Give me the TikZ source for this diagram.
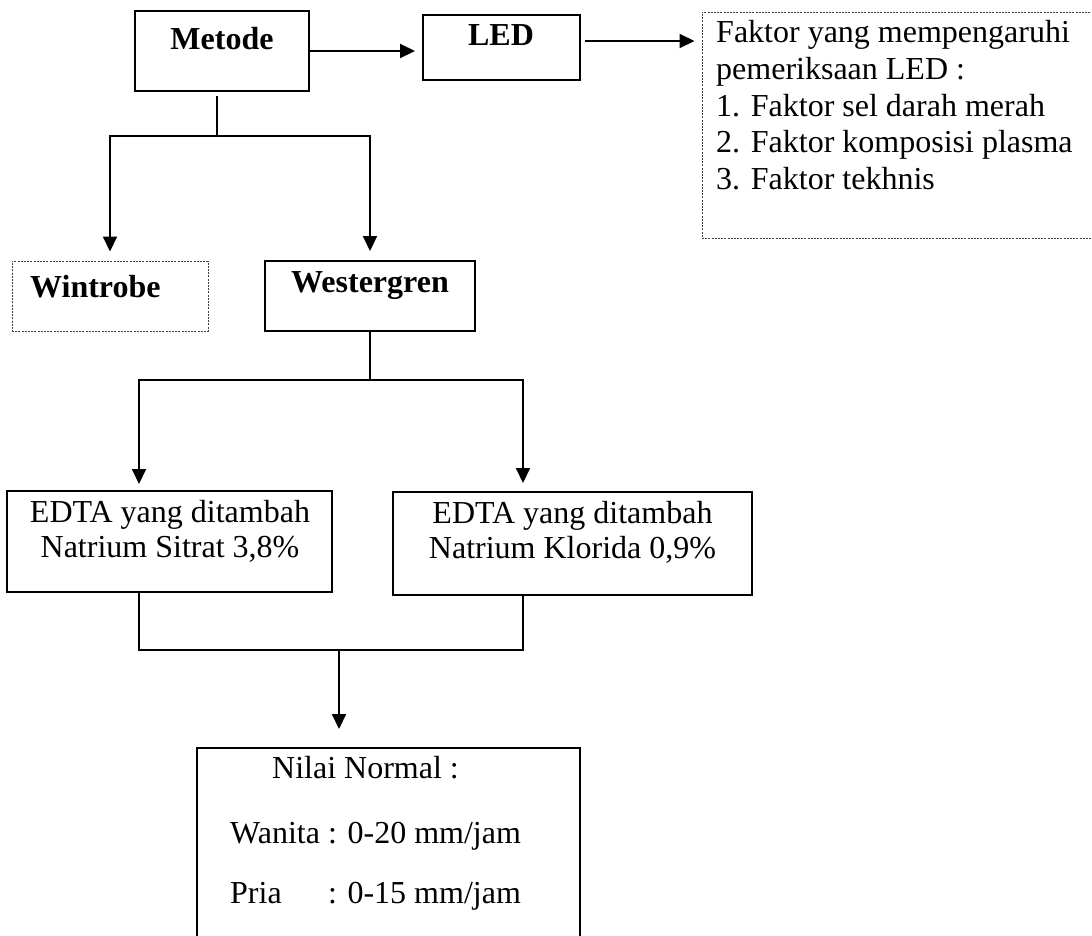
\documentclass[tikz,border=0pt]{standalone}
\usepackage{fontspec}
\setmainfont{Liberation Serif}
\usetikzlibrary{arrows.meta}
\begin{document}
\begin{tikzpicture}[x=1pt,y=-1pt]
\tikzset{
  solidbox/.style={draw=black, line width=2pt, inner sep=0pt},
  dotbox/.style={draw=black!75, line width=1pt, dash pattern=on 2pt off 1.2pt, inner sep=0pt},
  lbl/.style={inner sep=0pt, font=\fontsize{32}{37}\selectfont},
  blbl/.style={inner sep=0pt, font=\fontsize{32}{37}\selectfont\bfseries},
  arr/.style={line width=2pt, -{Triangle[length=15pt,width=14pt]}},
  conn/.style={line width=1.4pt},
  topconn/.style={line width=1.8pt},
}
\fill[white] (0,0) rectangle (1092,935);
\useasboundingbox (0,0) rectangle (1092,935);

% boxes
\node[solidbox, minimum width=174pt, minimum height=80pt] (metode) at (222,51) {};
\node[solidbox, minimum width=157pt, minimum height=65pt] (led) at (501.5,47.5) {};
\node[dotbox, minimum width=398pt, minimum height=226pt] (faktor) at (901,125) {};
\node[dotbox, minimum width=196pt, minimum height=70pt] (wintrobe) at (110,296) {};
\node[solidbox, minimum width=210pt, minimum height=70pt] (westergren) at (370,296) {};
\node[solidbox, minimum width=325pt, minimum height=101pt] (edta1) at (169.5,541.5) {};
\node[solidbox, minimum width=359pt, minimum height=103pt] (edta2) at (572.5,543.5) {};
\node[solidbox, minimum width=383pt, minimum height=197pt] (nilai) at (388.5,846.5) {};

% texts
\node[blbl, anchor=base] (tmetode) at (222,49) {Metode};
\node[blbl, anchor=base] (tled) at (501,45) {LED};
\node[blbl, anchor=base west] (twin) at (30,297) {Wintrobe};
\node[blbl, anchor=base] (twest) at (370,292) {Westergren};
\node[lbl, anchor=base west] (f1) at (716,42) {Faktor yang mempengaruhi};
\node[lbl, anchor=base west] (f2) at (716,79) {pemeriksaan LED :};
\node[lbl, anchor=base west] (f3) at (716,116) {1. Faktor sel darah merah};
\node[lbl, anchor=base west] (f4) at (716,152) {2. Faktor komposisi plasma};
\node[lbl, anchor=base west] (f5) at (716,189) {3. Faktor tekhnis};
\node[lbl, anchor=base] (e1a) at (170,522) {EDTA yang ditambah};
\node[lbl, anchor=base] (e1b) at (170,557) {Natrium Sitrat 3,8\%};
\node[lbl, anchor=base] (e2a) at (572.5,523) {EDTA yang ditambah};
\node[lbl, anchor=base] (e2b) at (572.5,558) {Natrium Klorida 0,9\%};
\node[lbl, anchor=base west] (n1) at (272,778) {Nilai Normal :};
\node[lbl, anchor=base west] (n2) at (230,843) {Wanita : 0-20 mm/jam};
\node[lbl, anchor=base west] (n3) at (230,903) {\rlap{Pria}\phantom{Wanita }: 0-15 mm/jam};

% connectors
\draw[arr, shorten >=7pt] (metode.east) -- (metode.east -| led.west);
\coordinate (la) at ([xshift=4pt,yshift=6.5pt]led.east);
\draw[arr, shorten >=7pt] (la) -- (la -| faktor.west);

\coordinate (j1) at (217,136);
\draw[topconn, shorten <=4pt] (metode.south -| j1) -- (j1);
\draw[arr] (j1) -| ([yshift=9pt]wintrobe.north);
\draw[arr] (j1) -| ([yshift=9pt]westergren.north);

\coordinate (j2) at (370,380);
\draw[conn] (westergren.south) -- (j2);
\draw[arr] (j2) -| ([xshift=-30.5pt,yshift=6pt]edta1.north);
\draw[arr] (j2) -| ([xshift=-49.5pt,yshift=8pt]edta2.north);

\coordinate (j3) at (339,650);
\draw[conn] ([xshift=-30.5pt]edta1.south) |- (j3);
\draw[conn] ([xshift=-49.5pt]edta2.south) |- (j3);
\draw[arr, shorten >=18pt] (j3) -- (j3 |- nilai.north);
\end{tikzpicture}
\end{document}
